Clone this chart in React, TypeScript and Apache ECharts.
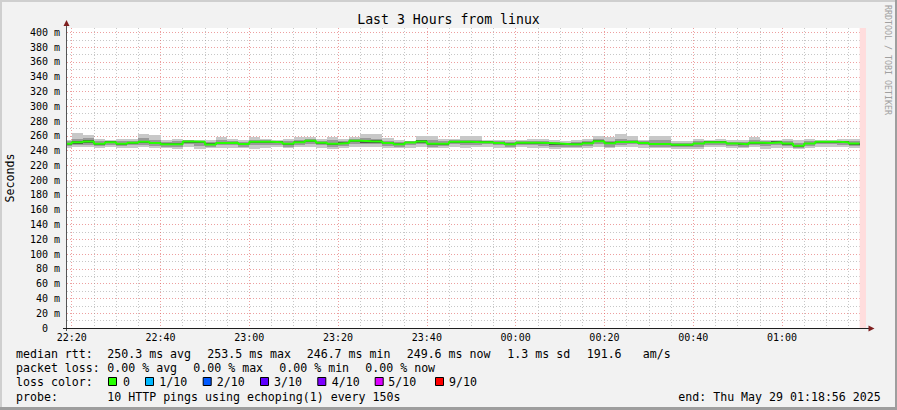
import React, { useEffect, useRef } from 'react';
import * as echarts from 'echarts';

// x values are minutes after 22:00
const START_MIN = 18 + 56 / 60; // 22:18:56
const END_MIN = START_MIN + 180; // 01:18:56
const FIRST_STEP_END = 20; // 22:20:00
const STEP_MIN = 2.5; // 150 s

// median rtt per 150 s step (ms)
const median = [
  249.3, 251.3, 252.5, 249.5, 251.3, 249.3, 250.8, 252.0, 250.2, 248.6,
  248.6, 252.5, 252.0, 248.4, 250.4, 250.8, 249.0, 252.0, 252.0, 251.5,
  249.3, 251.3, 253.4, 250.8, 249.3, 250.2, 253.5, 252.7, 252.5, 250.2,
  248.8, 251.1, 252.5, 249.3, 249.3, 252.0, 252.0, 251.5, 251.5, 250.2,
  248.8, 250.8, 250.6, 250.2, 249.7, 248.8, 248.8, 249.9, 252.7, 249.9,
  251.8, 252.2, 250.4, 249.0, 249.0, 247.9, 247.9, 249.7, 251.3, 251.3,
  249.7, 248.8, 250.8, 250.4, 251.3, 249.7, 246.7, 249.7, 252.0, 252.0,
  251.5, 249.6,
];
// outer smoke (lightest)
const outerHi = [
  254.0, 264.4, 261.7, 256.3, 254.0, 255.4, 256.3, 263.1, 260.7, 254.9,
  256.3, 254.0, 254.0, 254.9, 258.1, 256.3, 254.0, 258.1, 256.3, 254.0,
  256.3, 258.1, 258.1, 256.3, 258.1, 256.3, 258.1, 263.1, 263.1, 257.2,
  254.0, 253.6, 259.4, 260.3, 256.3, 256.3, 260.3, 259.4, 254.0, 254.9,
  254.9, 254.0, 256.3, 256.3, 254.0, 252.7, 254.0, 256.3, 260.3, 258.5,
  263.1, 260.3, 254.9, 260.3, 259.4, 253.6, 252.7, 256.3, 254.9, 256.3,
  254.0, 254.0, 258.1, 254.9, 254.0, 256.3, 254.9, 256.3, 254.0, 254.0,
  256.3, 256.3,
];
const outerLo = [
  244.0, 244.3, 244.8, 243.5, 244.6, 244.0, 244.2, 245.0, 243.6, 243.0,
  242.8, 245.0, 242.5, 243.3, 244.0, 244.0, 243.4, 242.4, 243.5, 244.7,
  243.2, 244.3, 245.0, 243.8, 242.3, 243.6, 245.3, 245.0, 244.7, 243.5,
  243.0, 244.1, 244.8, 243.3, 243.6, 244.9, 243.0, 244.3, 244.8, 244.0,
  243.0, 244.4, 244.2, 243.7, 242.2, 243.0, 243.3, 243.5, 244.5, 243.0,
  244.3, 245.1, 244.2, 243.2, 243.4, 242.6, 242.9, 242.4, 244.8, 244.5,
  243.1, 243.4, 244.5, 242.9, 244.2, 243.5, 242.5, 243.5, 245.0, 245.1,
  244.5, 243.8,
];
// middle smoke
const midHi = [
  252.5, 256.0, 256.5, 253.0, 253.5, 252.5, 253.5, 256.5, 255.0, 252.0,
  252.5, 253.8, 253.5, 252.0, 254.0, 253.5, 252.0, 255.0, 254.0, 253.0,
  252.5, 254.5, 255.5, 253.5, 254.0, 253.0, 255.5, 256.5, 255.5, 253.5,
  251.8, 252.8, 255.0, 254.0, 252.5, 254.0, 255.0, 254.5, 253.0, 252.5,
  252.0, 252.5, 253.5, 253.0, 251.5, 251.0, 252.0, 253.0, 255.5, 253.5,
  256.0, 255.0, 252.5, 254.0, 254.0, 251.0, 250.5, 252.5, 253.0, 253.5,
  252.0, 251.5, 254.0, 252.5, 253.0, 252.5, 251.0, 252.5, 253.5, 253.5,
  253.5, 253.0,
];
const midLo = [
  246.0, 247.0, 248.0, 246.0, 247.5, 246.0, 247.0, 248.0, 246.5, 245.0,
  245.0, 248.5, 246.5, 245.5, 247.0, 247.0, 245.5, 247.0, 247.5, 248.0,
  245.5, 247.5, 249.0, 247.0, 245.0, 246.5, 249.0, 248.5, 248.5, 246.5,
  245.0, 247.5, 248.5, 245.5, 246.0, 248.5, 247.0, 248.0, 248.5, 247.0,
  245.5, 247.5, 247.0, 246.5, 245.0, 245.0, 245.5, 246.5, 249.0, 245.5,
  248.0, 249.0, 247.0, 245.5, 245.5, 244.5, 244.5, 245.5, 248.0, 248.0,
  246.0, 245.5, 248.0, 246.0, 248.0, 246.0, 243.8, 246.0, 249.0, 249.0,
  248.0, 246.5,
];
// inner (darkest) smoke
const coreHi = [
  250.8, 253.0, 254.0, 251.0, 252.5, 250.5, 252.0, 253.5, 252.0, 250.0,
  250.0, 253.5, 253.0, 249.8, 251.8, 252.0, 250.5, 253.2, 253.2, 252.5,
  250.8, 252.5, 254.5, 252.0, 250.8, 251.5, 254.5, 254.0, 253.8, 251.5,
  250.0, 252.3, 253.8, 250.8, 250.5, 253.2, 253.5, 252.8, 252.5, 251.5,
  250.0, 252.0, 251.8, 251.8, 250.8, 250.0, 250.0, 251.3, 254.0, 251.2,
  253.2, 253.5, 251.5, 250.5, 250.5, 249.2, 249.2, 251.0, 252.5, 252.5,
  251.0, 250.0, 252.0, 251.8, 252.5, 251.0, 248.2, 251.0, 253.2, 253.2,
  252.5, 251.0,
];
const coreLo = [
  248.0, 249.5, 250.5, 248.0, 250.0, 248.0, 249.5, 250.5, 248.5, 247.2,
  247.2, 251.0, 250.5, 247.2, 249.0, 249.5, 247.5, 250.5, 250.5, 250.2,
  247.8, 249.8, 251.8, 249.2, 247.8, 249.0, 252.0, 251.0, 251.0, 248.8,
  247.3, 249.8, 251.0, 248.0, 248.0, 250.5, 250.0, 250.2, 250.2, 248.8,
  247.5, 249.5, 249.2, 248.8, 248.0, 247.5, 247.3, 248.5, 251.2, 248.5,
  250.2, 251.0, 249.0, 247.8, 247.8, 246.5, 246.5, 248.5, 249.8, 249.8,
  248.5, 247.3, 249.5, 249.0, 250.0, 248.2, 245.5, 248.5, 250.5, 250.5,
  250.0, 248.0,
];

const rttStats = [
  ['250.3 ms avg', 107.3],
  ['253.5 ms max', 207.3],
  ['246.7 ms min', 306.7],
  ['249.6 ms now', 406.7],
  ['1.3 ms sd', 507.3],
  ['191.6', 586.7],
  ['am/s', 642.7],
];
const lossStats = [
  ['0.00 % avg', 107.3],
  ['0.00 % max', 193.3],
  ['0.00 % min', 279.3],
  ['0.00 % now', 365.3],
];
const lossColors = [
  { label: '0', color: '#26ff00', sq: 108, tx: 123 },
  { label: '1/10', color: '#00b8ff', sq: 145, tx: 159.3 },
  { label: '2/10', color: '#0059ff', sq: 202.7, tx: 216.7 },
  { label: '3/10', color: '#5e00ff', sq: 260, tx: 274 },
  { label: '4/10', color: '#7e00ff', sq: 317.3, tx: 331.7 },
  { label: '5/10', color: '#dd00ff', sq: 374.7, tx: 388.3 },
  { label: '9/10', color: '#ff0000', sq: 435, tx: 449 },
];

const MONO = "'DejaVu Sans Mono', 'Liberation Mono', monospace";

function pad(n: number) {
  return (n < 10 ? '0' : '') + n;
}
function fmtTime(v: number) {
  if (Math.abs(v - Math.round(v)) > 1e-6) return '';
  const total = (22 * 60 + Math.round(v)) % 1440;
  return pad(Math.floor(total / 60)) + ':' + pad(total % 60);
}

function txt(x: number, y: number, text: string, size = 11.6, extra: any = {}) {
  return {
    type: 'text',
    x,
    y,
    z: 100,
    silent: true,
    style: {
      text,
      font: `${size}px ${MONO}`,
      fill: '#000',
      verticalAlign: 'middle',
      ...(extra.style || {}),
    },
    ...(extra.el || {}),
  };
}

export default function App() {
  const ref = useRef<HTMLDivElement>(null);
  useEffect(() => {
    document.body.style.margin = '0';
    const chart = echarts.init(ref.current!, null, { renderer: 'svg' });
    const n = median.length;
    const smokeData = median.map((_, k) => {
      const end = FIRST_STEP_END + STEP_MIN * k;
      return [end - STEP_MIN, end, outerLo[k], outerHi[k], midLo[k], midHi[k], coreLo[k], coreHi[k]];
    });
    const medianData = [[FIRST_STEP_END - STEP_MIN, median[0]]].concat(
      median.map((v, k) => [FIRST_STEP_END + STEP_MIN * k, v])
    );
    const lastEnd = FIRST_STEP_END + STEP_MIN * (n - 1);

    const majorLine = { color: 'rgba(222,80,80,0.55)', type: [1, 2], width: 1 };
    const minorLine = { color: 'rgba(143,143,143,0.5)', type: [1, 2], width: 1 };

    const graphics: any[] = [
      // border shading
      { type: 'rect', z: 90, silent: true, shape: { x: 0, y: 0, width: 897, height: 2 }, style: { fill: '#cfcfcf' } },
      { type: 'rect', z: 90, silent: true, shape: { x: 0, y: 0, width: 2, height: 410 }, style: { fill: '#cfcfcf' } },
      { type: 'rect', z: 90, silent: true, shape: { x: 0, y: 407, width: 897, height: 3 }, style: { fill: '#9e9e9e' } },
      { type: 'rect', z: 90, silent: true, shape: { x: 895, y: 0, width: 2, height: 410 }, style: { fill: '#9e9e9e' } },
      // axes
      { type: 'line', z: 100, silent: true, shape: { x1: 66.5, y1: 331, x2: 66.5, y2: 25 }, style: { stroke: '#555', lineWidth: 1 } },
      { type: 'line', z: 100, silent: true, shape: { x1: 63, y1: 328.5, x2: 870, y2: 328.5 }, style: { stroke: '#1f1f1f', lineWidth: 1 } },
      { type: 'polygon', z: 101, silent: true, shape: { points: [[63.5, 26], [69.5, 26], [66.5, 20]] }, style: { fill: '#7f1f1f' } },
      { type: 'polygon', z: 101, silent: true, shape: { points: [[868.5, 325.5], [868.5, 331.5], [874.5, 328.5]] }, style: { fill: '#7f1f1f' } },
      // title
      txt(448.5, 19, 'Last 3 Hours from linux', 13.2, { style: { align: 'center' } }),
      // y axis name
      txt(10, 178, 'Seconds', 11.6, { style: { align: 'center' }, el: { rotation: Math.PI / 2 } }),
      // watermark
      txt(888, 60, 'RRDTOOL / TOBI OETIKER', 8.3, { style: { align: 'center', fill: '#a0a0a0' }, el: { rotation: -Math.PI / 2 } }),
      // legend rows
      txt(16, 354, 'median rtt:'),
      txt(16, 368, 'packet loss:'),
      txt(16, 382, 'loss color:'),
      txt(16, 396.5, 'probe:'),
      txt(107.3, 396.5, '10 HTTP pings using echoping(1) every 150s'),
      txt(678.3, 396.5, 'end: Thu May 29 01:18:56 2025'),
    ];
    rttStats.forEach(([t, x]) => graphics.push(txt(x as number, 354, t as string)));
    lossStats.forEach(([t, x]) => graphics.push(txt(x as number, 368, t as string)));
    lossColors.forEach((c) => {
      graphics.push({
        type: 'rect',
        z: 100,
        silent: true,
        shape: { x: c.sq + 0.5, y: 377.5, width: 8, height: 8 },
        style: { fill: c.color, stroke: '#000', lineWidth: 1 },
      });
      graphics.push(txt(c.tx, 382, c.label));
    });

    chart.setOption({
      animation: false,
      backgroundColor: '#f2f2f2',
      grid: {
        left: 67,
        right: 897 - 866,
        top: 28,
        bottom: 410 - 328,
        show: true,
        backgroundColor: '#ffffff',
        borderWidth: 0,
      },
      xAxis: {
        type: 'value',
        min: START_MIN,
        max: END_MIN,
        splitNumber: 9,
        axisLine: { show: false },
        axisTick: { show: false },
        axisLabel: {
          formatter: (v: number) => fmtTime(v),
          showMinLabel: false,
          showMaxLabel: false,
          margin: 4,
          fontFamily: MONO,
          fontSize: 10,
          color: '#000',
        },
        splitLine: { show: true, showMinLine: false, showMaxLine: false, lineStyle: majorLine },
        minorTick: { show: false, splitNumber: 4 },
        minorSplitLine: { show: true, lineStyle: minorLine },
      },
      yAxis: {
        type: 'value',
        min: 0,
        max: 406,
        interval: 20,
        axisLine: { show: false },
        axisTick: { show: false },
        axisLabel: {
          showMaxLabel: false,
          margin: 7,
          fontFamily: MONO,
          fontSize: 10,
          color: '#000',
          formatter: (v: number) => {
            if (v === 0) return '{z|0}';
            if (Math.abs(v % 20) > 1e-6) return '';
            return v + ' m';
          },
          rich: { z: { fontFamily: MONO, fontSize: 10, color: '#000', padding: [0, 12, 0, 0] } },
        },
        splitLine: { show: true, showMinLine: false, showMaxLine: false, lineStyle: majorLine },
        minorTick: { show: false, splitNumber: 2 },
        minorSplitLine: { show: true, lineStyle: minorLine },
      },
      graphic: graphics,
      series: [
        {
          type: 'custom',
          z: 2,
          clip: true,
          silent: true,
          data: smokeData,
          renderItem: (params: any, api: any) => {
            const x0 = Math.max(api.value(0), START_MIN);
            const x1 = api.value(1);
            const bands: [number, number, string][] = [
              [2, 3, '#c8c8c8'],
              [4, 5, '#999999'],
              [6, 7, '#4e4e4e'],
            ];
            return {
              type: 'group',
              children: bands.map(([lo, hi, color]) => {
                const a = api.coord([x0, api.value(hi)]);
                const b = api.coord([x1, api.value(lo)]);
                const left = Math.round(a[0]);
                const right = Math.round(b[0]);
                const top = Math.round(a[1]);
                const bottom = Math.round(b[1]);
                return {
                  type: 'rect',
                  shape: { x: left, y: top, width: right - left, height: Math.max(1, bottom - top) },
                  style: { fill: color },
                };
              }),
            };
          },
        },
        {
          type: 'line',
          z: 3,
          step: 'start',
          showSymbol: false,
          symbol: 'none',
          silent: true,
          clip: true,
          data: medianData,
          lineStyle: { color: '#26ff00', width: 2 },
          markArea: {
            silent: true,
            itemStyle: { color: '#ffdddd' },
            data: [[{ xAxis: lastEnd }, { xAxis: END_MIN }]],
          },
        },
      ],
    });
    return () => chart.dispose();
  }, []);
  return <div ref={ref} style={{ width: 897, height: 410 }} />;
}
